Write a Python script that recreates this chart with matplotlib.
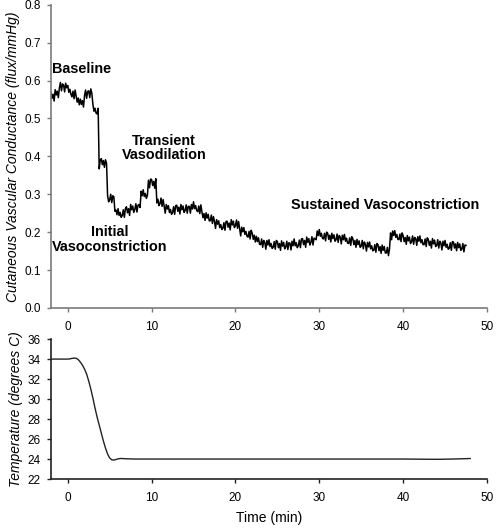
import numpy as np
import matplotlib
matplotlib.use("Agg")
import matplotlib.pyplot as plt

plt.rcParams['font.family'] = ['Liberation Sans', 'DejaVu Sans']

# Cutaneous vascular conductance, sampled every 0.125 min from t = -2
cvc_start = -2.0
cvc_step = 0.125
cvc_values = [
    0.569, 0.553, 0.564, 0.546, 0.576, 0.562, 0.572, 0.555,
    0.580, 0.595, 0.573, 0.591, 0.588, 0.570, 0.593, 0.581,
    0.587, 0.569, 0.577, 0.564, 0.557, 0.572, 0.552, 0.575,
    0.559, 0.543, 0.554, 0.536, 0.551, 0.537, 0.547, 0.530,
    0.560, 0.575, 0.553, 0.571, 0.573, 0.555, 0.578, 0.566,
    0.537, 0.519, 0.527, 0.514, 0.512, 0.527, 0.367, 0.390,
    0.394, 0.378, 0.389, 0.371, 0.391, 0.382, 0.297, 0.280,
    0.285, 0.300, 0.278, 0.296, 0.293, 0.255, 0.258, 0.246,
    0.262, 0.244, 0.252, 0.239, 0.244, 0.259, 0.239, 0.262,
    0.267, 0.251, 0.262, 0.244, 0.273, 0.259, 0.269, 0.252,
    0.260, 0.275, 0.253, 0.271, 0.273, 0.265, 0.308, 0.296,
    0.312, 0.294, 0.302, 0.289, 0.297, 0.337, 0.317, 0.340,
    0.339, 0.323, 0.334, 0.316, 0.341, 0.277, 0.287, 0.270,
    0.275, 0.290, 0.268, 0.286, 0.268, 0.250, 0.273, 0.261,
    0.270, 0.252, 0.260, 0.247, 0.252, 0.267, 0.247, 0.270,
    0.271, 0.255, 0.266, 0.248, 0.273, 0.259, 0.269, 0.252,
    0.257, 0.272, 0.250, 0.268, 0.268, 0.250, 0.273, 0.261,
    0.280, 0.262, 0.270, 0.257, 0.254, 0.269, 0.249, 0.272,
    0.254, 0.238, 0.249, 0.231, 0.251, 0.237, 0.247, 0.230,
    0.230, 0.245, 0.223, 0.241, 0.228, 0.210, 0.233, 0.221,
    0.230, 0.212, 0.220, 0.207, 0.210, 0.225, 0.205, 0.228,
    0.229, 0.213, 0.224, 0.206, 0.233, 0.219, 0.229, 0.212,
    0.217, 0.232, 0.210, 0.228, 0.208, 0.190, 0.213, 0.201,
    0.212, 0.194, 0.202, 0.189, 0.187, 0.202, 0.182, 0.205,
    0.197, 0.181, 0.192, 0.174, 0.189, 0.175, 0.185, 0.168,
    0.167, 0.182, 0.160, 0.178, 0.173, 0.155, 0.178, 0.166,
    0.180, 0.162, 0.170, 0.157, 0.160, 0.175, 0.155, 0.178,
    0.175, 0.159, 0.170, 0.152, 0.177, 0.163, 0.173, 0.156,
    0.161, 0.176, 0.154, 0.172, 0.171, 0.153, 0.176, 0.164,
    0.182, 0.164, 0.172, 0.159, 0.164, 0.179, 0.159, 0.182,
    0.183, 0.167, 0.178, 0.160, 0.187, 0.173, 0.183, 0.166,
    0.173, 0.188, 0.166, 0.184, 0.183, 0.180, 0.203, 0.191,
    0.207, 0.189, 0.197, 0.184, 0.182, 0.197, 0.177, 0.200,
    0.197, 0.181, 0.192, 0.174, 0.197, 0.183, 0.193, 0.176,
    0.180, 0.195, 0.173, 0.191, 0.187, 0.169, 0.192, 0.180,
    0.194, 0.176, 0.184, 0.171, 0.170, 0.185, 0.165, 0.188,
    0.183, 0.167, 0.178, 0.160, 0.181, 0.167, 0.177, 0.160,
    0.163, 0.178, 0.156, 0.174, 0.168, 0.150, 0.173, 0.161,
    0.174, 0.156, 0.164, 0.151, 0.152, 0.167, 0.147, 0.170,
    0.167, 0.151, 0.162, 0.144, 0.166, 0.152, 0.162, 0.145,
    0.145, 0.160, 0.138, 0.156, 0.198, 0.180, 0.203, 0.191,
    0.204, 0.186, 0.194, 0.181, 0.180, 0.195, 0.175, 0.198,
    0.191, 0.175, 0.186, 0.168, 0.191, 0.177, 0.187, 0.170,
    0.175, 0.190, 0.168, 0.186, 0.183, 0.165, 0.188, 0.176,
    0.190, 0.172, 0.180, 0.167, 0.167, 0.182, 0.162, 0.185,
    0.181, 0.165, 0.176, 0.158, 0.183, 0.169, 0.179, 0.162,
    0.165, 0.180, 0.158, 0.176, 0.171, 0.153, 0.176, 0.164,
    0.178, 0.160, 0.168, 0.155, 0.157, 0.172, 0.152, 0.175,
    0.174, 0.158, 0.169, 0.151, 0.173, 0.159, 0.169, 0.152,
    0.155, 0.170, 0.148, 0.166, 0.165,
]

# Skin temperature
temp_time = [-2, -1, 0, 0.25, 0.5, 0.75, 1.0, 1.25, 1.5, 1.75, 2.0, 2.25,
             2.5, 2.75, 3.0, 3.25, 3.5, 3.75, 4.0, 4.25, 4.5, 4.75, 5.0,
             5.25, 5.5, 5.75, 6.0, 6.25, 6.5, 7.0, 8, 10, 20, 30, 40, 44,
             46, 48]
temp_values = [34.0, 34.0, 34.0, 34.02, 34.07, 34.1, 34.08, 33.95, 33.7,
               33.4, 33.0, 32.5, 31.8, 31.0, 30.1, 29.1, 28.2, 27.4, 26.6,
               25.8, 25.1, 24.5, 24.1, 23.92, 23.9, 23.95, 24.02, 24.05,
               24.05, 24.02, 24.0, 24.0, 24.0, 24.0, 24.0, 23.97, 24.0,
               24.05]

x_ticks = [0, 10, 20, 30, 40, 50]
cvc_ticks = [0.0, 0.1, 0.2, 0.3, 0.4, 0.5, 0.6, 0.7, 0.8]
temp_ticks = [22, 24, 26, 28, 30, 32, 34, 36]

annotations = [
    ("Baseline", 1.7, 0.63),
    ("Transient\nVasodilation", 11.5, 0.422),
    ("Initial\nVasoconstriction", 5.0, 0.18),
    ("Sustained Vasoconstriction", 37.8, 0.272),
]

cvc_time = cvc_start + cvc_step * np.arange(len(cvc_values))

fig = plt.figure(figsize=(4.96, 5.30), dpi=100)
ax1 = fig.add_axes([0.1028, 0.419, 0.879, 0.572])
ax2 = fig.add_axes([0.1028, 0.0962, 0.879, 0.264])

for ax, spine_color in ((ax1, '#7a7a7a'), (ax2, '#222222')):
    for s in ('top', 'right'):
        ax.spines[s].set_visible(False)
    for s in ('left', 'bottom'):
        ax.spines[s].set_color(spine_color)
        ax.spines[s].set_linewidth(1.2)
    ax.tick_params(direction='out', length=3, width=1, color=spine_color,
                   labelsize=8.5)
    ax.tick_params(axis='x', pad=6.5)
    ax.tick_params(axis='y', pad=4.5)
    ax.set_xlim(-2, 50)
    ax.set_xticks(x_ticks)

ax1.plot(cvc_time, cvc_values, color='black', lw=1.1)
ax1.set_ylim(0, 0.8)
ax1.set_yticks(cvc_ticks)
ax1.set_yticklabels([f"{v:.1f}" for v in cvc_ticks])
ax1.set_ylabel("Cutaneous Vascular Conductance (flux/mmHg)", fontsize=10,
               style='italic', labelpad=3)
for txt, tx, ty in annotations:
    ax1.text(tx, ty, txt, ha='center', va='center', fontsize=10.4,
             fontweight='bold', linespacing=1.05)

ax2.plot(temp_time, temp_values, color='#222222', lw=1.0)
ax2.set_ylim(22, 36)
ax2.set_yticks(temp_ticks)
ax2.set_ylabel("Temperature (degrees C)", fontsize=10, style='italic',
               labelpad=3)
ax2.set_xlabel("Time (min)", fontsize=10, labelpad=5)

fig.savefig("out.png", dpi=100)
